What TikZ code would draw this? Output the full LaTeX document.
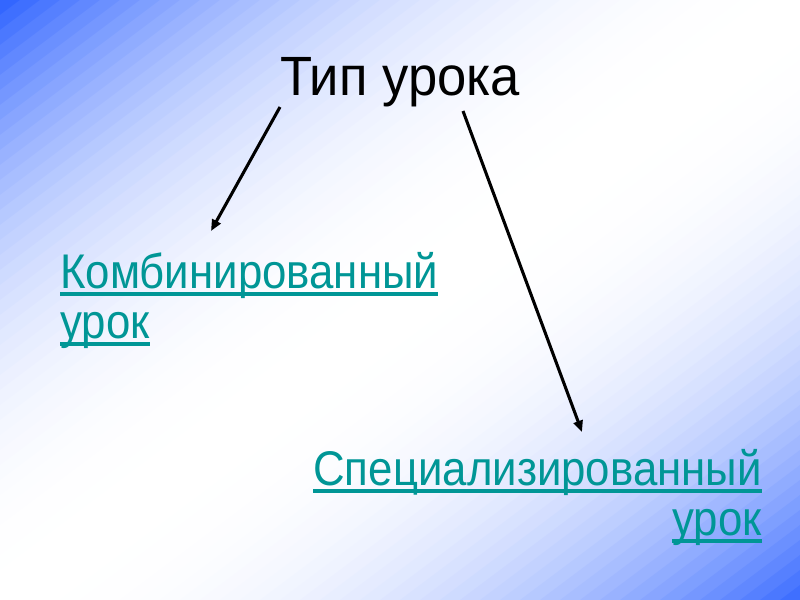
\documentclass[tikz,border=0pt]{standalone}
\usepackage{fontspec}
\setmainfont{Liberation Sans}
\newfontfamily\linkfont[FakeStretch=0.9]{Liberation Sans}
\newfontfamily\headfont[FakeStretch=0.95]{Liberation Sans}
\usetikzlibrary{arrows.meta}
\definecolor{bgblue}{RGB}{51,102,255}
\definecolor{linkteal}{RGB}{0,150,150}
\newcommand{\ulx}[1]{\leavevmode\setbox0=\hbox{#1}\rlap{\vrule width \wd0 height -3.3pt depth 5.9pt}\box0}
\tikzset{
  titletext/.style={font=\headfont\fontsize{41.5pt}{48pt}\selectfont, text=black, inner sep=0pt},
  linktext/.style={font=\linkfont\fontsize{36.5pt}{37.5pt}\selectfont, text=linkteal, inner sep=0pt},
  arrowline/.style={line width=2.3pt, -{Triangle[length=8.5pt,width=7pt]}}
}
\begin{document}
\begin{tikzpicture}[x=0.75pt,y=-0.75pt]
\useasboundingbox (0,0) rectangle (800,600);
\begin{scope}
\clip (0,0) rectangle (800,600);
\fill[bgblue] (0,0) rectangle (800,600);
\foreach \k in {0,...,80}{
  \pgfmathsetmacro{\s}{\k/40}
  \pgfmathsetmacro{\p}{100*pow(abs(\s-1),2.4)}
  \colorlet{bandc}{bgblue!\p!white}
  \fill[bandc] ({800*(\s+2)},-1200) -- (4000,-1200) -- (800,1200) -- ({800*(\s-2)},1200) -- cycle;
}
\end{scope}
\node[titletext, anchor=base] (title) at (400,95) {Тип урока};
\node[linktext, anchor=base west] (comb) at (60,288)
  {\vtop{\baselineskip=37.5pt\lineskiplimit=-100pt\hbox{\ulx{Комбинированный}}\hbox{\ulx{урок}}}};
\node[linktext, anchor=base east] (spec) at (762,485)
  {\vtop{\baselineskip=37.5pt\lineskiplimit=-100pt\halign{\hfil#\cr\ulx{Специализированный}\cr\ulx{урок}\cr}}};
\coordinate (a1s) at (280,107);
\coordinate (a1e) at (211,231);
\coordinate (a2s) at (463,111);
\coordinate (a2e) at (582,432);
\draw[arrowline] (a1s) -- (a1e);
\draw[arrowline] (a2s) -- (a2e);
\end{tikzpicture}
\end{document}
